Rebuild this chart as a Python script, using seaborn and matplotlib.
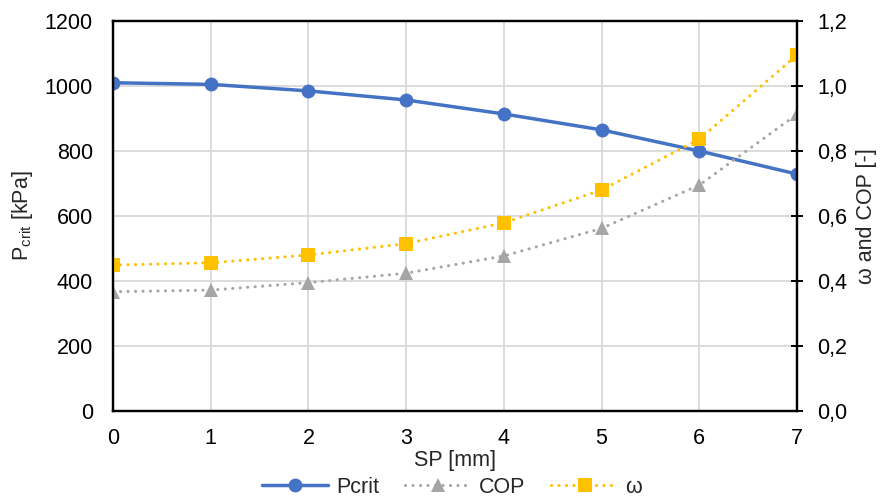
import matplotlib
matplotlib.use("Agg")
import matplotlib.pyplot as plt
import seaborn as sns
import pandas as pd
from matplotlib.ticker import FuncFormatter

sp = [0, 1, 2, 3, 4, 5, 6, 7]
pcrit = [1010, 1005, 985, 957, 914, 865, 800, 729]
cop = [0.367, 0.372, 0.395, 0.424, 0.477, 0.562, 0.695, 0.913]
omega = [0.449, 0.456, 0.480, 0.515, 0.579, 0.680, 0.836, 1.095]

df = pd.DataFrame({"SP": sp, "Pcrit": pcrit, "COP": cop, "omega": omega})

sns.set_theme(style="white")
plt.rcParams["font.family"] = ["Liberation Sans", "DejaVu Sans"]
plt.rcParams["mathtext.fontset"] = "custom"
plt.rcParams["mathtext.rm"] = "Liberation Sans"

FS = 15.5

fig = plt.figure(figsize=(8.85, 4.98), dpi=100)
ax = fig.add_axes([113/885, 1-411/498, (797-113)/885, (411-21)/498])
ax2 = ax.twinx()

blue, gray, yellow = "#4472C4", "#A5A5A5", "#FFC000"

sns.lineplot(data=df, x="SP", y="Pcrit", ax=ax, color=blue, linewidth=2.5,
             marker="o", markersize=10, markeredgewidth=0, label="Pcrit", legend=False)
sns.lineplot(data=df, x="SP", y="COP", ax=ax2, color=gray, linewidth=2.2,
             linestyle=(0, (0.05, 2.4)), dash_capstyle="round",
             marker="^", markersize=10, markeredgewidth=0, label="COP", legend=False)
sns.lineplot(data=df, x="SP", y="omega", ax=ax2, color=yellow, linewidth=2.2,
             linestyle=(0, (0.05, 2.4)), dash_capstyle="round",
             marker="s", markersize=10, markeredgewidth=0, label="ω", legend=False)

ax.set_xlim(0, 7)
ax.set_ylim(0, 1200)
ax2.set_ylim(0, 1.2)
ax.set_xticks(range(0, 8))
ax.set_yticks(range(0, 1201, 200))
ax2.set_yticks([i / 10 for i in range(0, 13, 2)])
ax2.yaxis.set_major_formatter(FuncFormatter(lambda v, p: f"{v:.1f}".replace(".", ",")))

ax.grid(True, color="#D9D9D9", linewidth=1.3)
ax2.grid(False)
ax.set_axisbelow(True)

for a in (ax, ax2):
    for s in a.spines.values():
        s.set_color("black")
        s.set_linewidth(1.6)

ax.tick_params(axis="y", length=0, labelsize=FS, colors="black", pad=14.5)
ax.tick_params(axis="x", length=0, labelsize=FS, colors="black", pad=12)
ax2.tick_params(axis="y", direction="inout", length=9, width=1.4, labelsize=FS,
                colors="black", pad=10)

ax.set_xlabel("SP [mm]", fontsize=FS, labelpad=1)
ax.set_ylabel(r"P$_{\mathregular{crit}}$ [kPa]", fontsize=FS, labelpad=7)
ax2.set_ylabel("ω and COP [-]", fontsize=FS, labelpad=6)

h1, l1 = ax.get_legend_handles_labels()
h2, l2 = ax2.get_legend_handles_labels()
fig.legend(h1 + h2, l1 + l2, loc="center", bbox_to_anchor=(452/885, 1-487/498),
           ncol=3, frameon=False, fontsize=FS, handlelength=3.1, columnspacing=1.2,
           handletextpad=0.35, borderpad=0)

fig.savefig("out.png", dpi=100)
